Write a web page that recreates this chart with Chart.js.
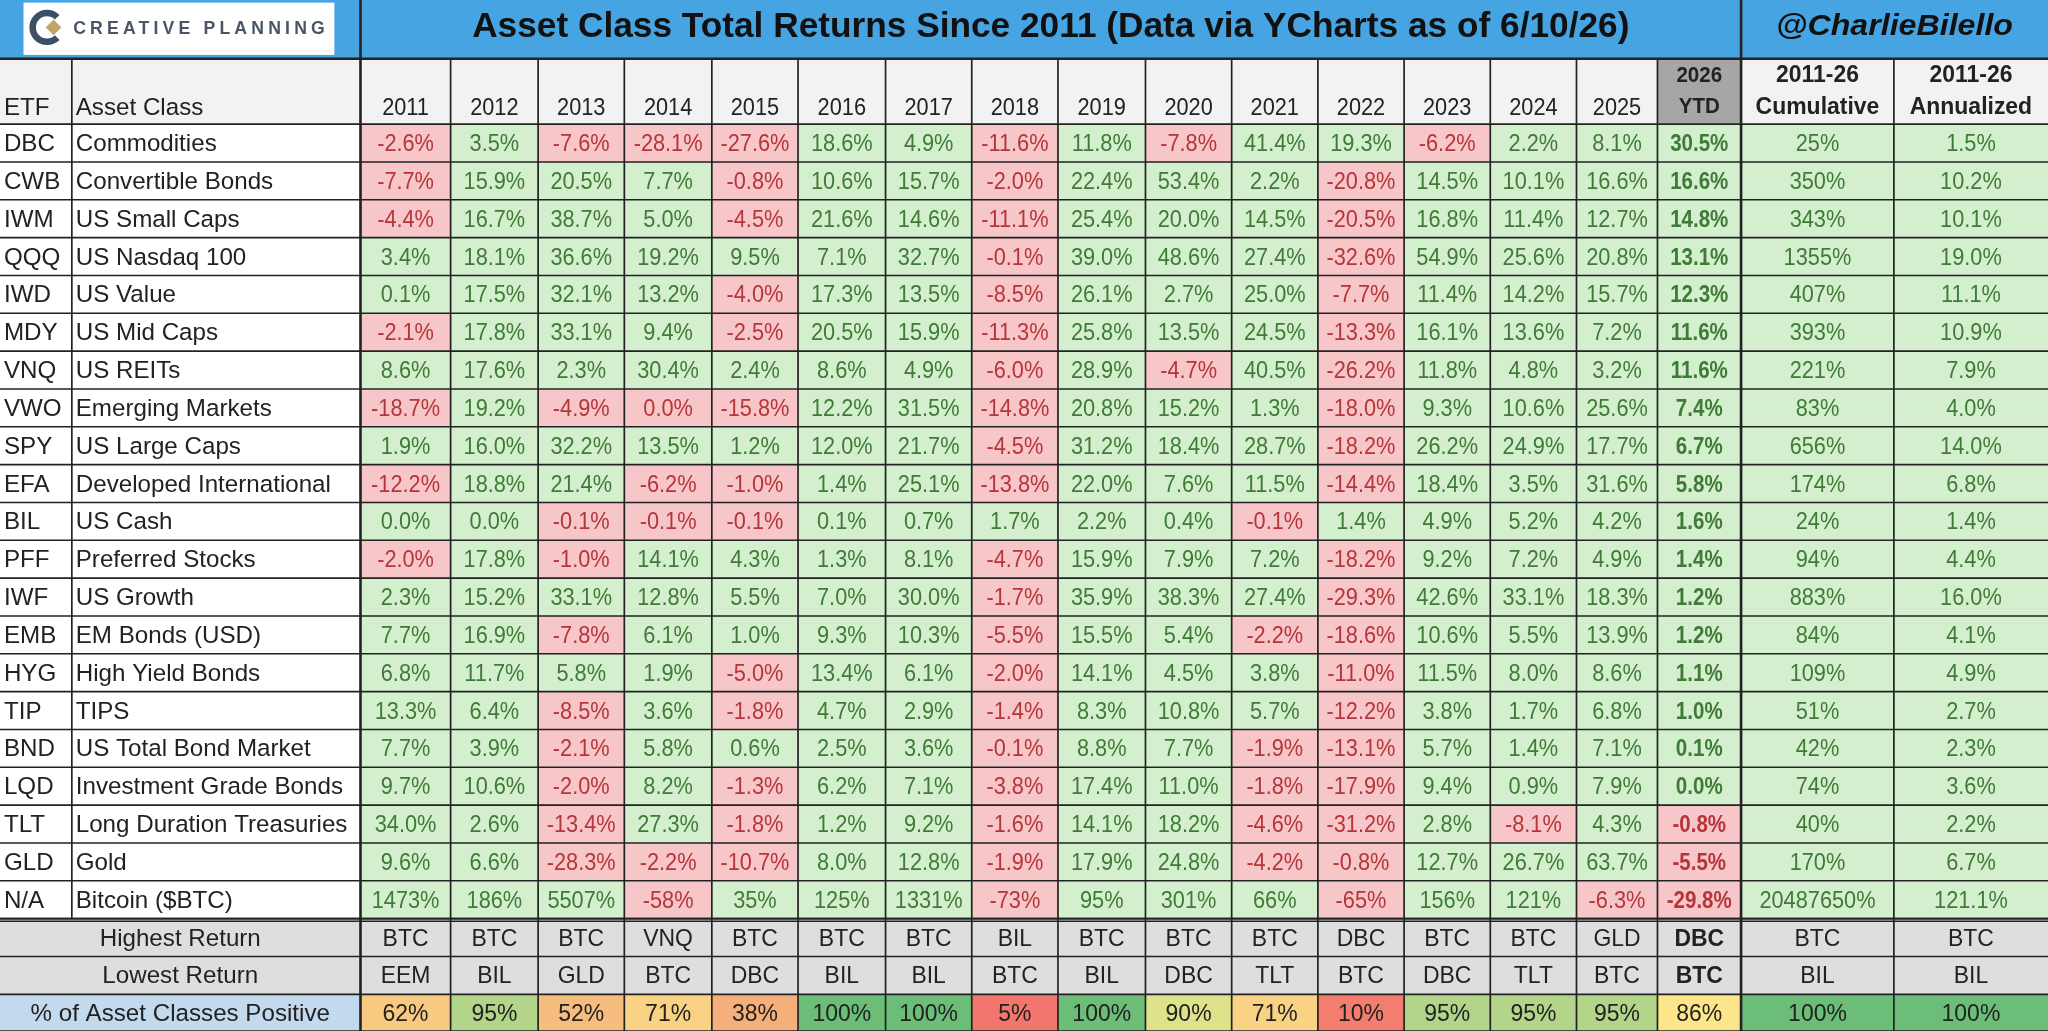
<!DOCTYPE html>
<html><head><meta charset="utf-8">
<script src="https://cdn.jsdelivr.net/npm/chart.js@4/dist/chart.umd.min.js"></script>
<style>html,body{margin:0;padding:0;background:#fff}#wrap{width:2048px;height:1031px}</style>
</head><body><div id="wrap"><canvas id="c"></canvas></div>
<script>
const title = "Asset Class Total Returns Since 2011 (Data via YCharts as of 6/10/26)";
const handle = "@CharlieBilello";
const years = ["2011","2012","2013","2014","2015","2016","2017","2018","2019","2020","2021","2022","2023","2024","2025"];
const tickers = ["DBC","CWB","IWM","QQQ","IWD","MDY","VNQ","VWO","SPY","EFA","BIL","PFF","IWF","EMB","HYG","TIP","BND","LQD","TLT","GLD","N/A"];
const assetClasses = ["Commodities","Convertible Bonds","US Small Caps","US Nasdaq 100","US Value","US Mid Caps","US REITs","Emerging Markets","US Large Caps","Developed International","US Cash","Preferred Stocks","US Growth","EM Bonds (USD)","High Yield Bonds","TIPS","US Total Bond Market","Investment Grade Bonds","Long Duration Treasuries","Gold","Bitcoin ($BTC)"];
// yearly returns 2011..2025
const returns = [
 [-2.6,3.5,-7.6,-28.1,-27.6,18.6,4.9,-11.6,11.8,-7.8,41.4,19.3,-6.2,2.2,8.1],
 [-7.7,15.9,20.5,7.7,-0.8,10.6,15.7,-2.0,22.4,53.4,2.2,-20.8,14.5,10.1,16.6],
 [-4.4,16.7,38.7,5.0,-4.5,21.6,14.6,-11.1,25.4,20.0,14.5,-20.5,16.8,11.4,12.7],
 [3.4,18.1,36.6,19.2,9.5,7.1,32.7,-0.1,39.0,48.6,27.4,-32.6,54.9,25.6,20.8],
 [0.1,17.5,32.1,13.2,-4.0,17.3,13.5,-8.5,26.1,2.7,25.0,-7.7,11.4,14.2,15.7],
 [-2.1,17.8,33.1,9.4,-2.5,20.5,15.9,-11.3,25.8,13.5,24.5,-13.3,16.1,13.6,7.2],
 [8.6,17.6,2.3,30.4,2.4,8.6,4.9,-6.0,28.9,-4.7,40.5,-26.2,11.8,4.8,3.2],
 [-18.7,19.2,-4.9,-0.0,-15.8,12.2,31.5,-14.8,20.8,15.2,1.3,-18.0,9.3,10.6,25.6],
 [1.9,16.0,32.2,13.5,1.2,12.0,21.7,-4.5,31.2,18.4,28.7,-18.2,26.2,24.9,17.7],
 [-12.2,18.8,21.4,-6.2,-1.0,1.4,25.1,-13.8,22.0,7.6,11.5,-14.4,18.4,3.5,31.6],
 [0.0,0.0,-0.1,-0.1,-0.1,0.1,0.7,1.7,2.2,0.4,-0.1,1.4,4.9,5.2,4.2],
 [-2.0,17.8,-1.0,14.1,4.3,1.3,8.1,-4.7,15.9,7.9,7.2,-18.2,9.2,7.2,4.9],
 [2.3,15.2,33.1,12.8,5.5,7.0,30.0,-1.7,35.9,38.3,27.4,-29.3,42.6,33.1,18.3],
 [7.7,16.9,-7.8,6.1,1.0,9.3,10.3,-5.5,15.5,5.4,-2.2,-18.6,10.6,5.5,13.9],
 [6.8,11.7,5.8,1.9,-5.0,13.4,6.1,-2.0,14.1,4.5,3.8,-11.0,11.5,8.0,8.6],
 [13.3,6.4,-8.5,3.6,-1.8,4.7,2.9,-1.4,8.3,10.8,5.7,-12.2,3.8,1.7,6.8],
 [7.7,3.9,-2.1,5.8,0.6,2.5,3.6,-0.1,8.8,7.7,-1.9,-13.1,5.7,1.4,7.1],
 [9.7,10.6,-2.0,8.2,-1.3,6.2,7.1,-3.8,17.4,11.0,-1.8,-17.9,9.4,0.9,7.9],
 [34.0,2.6,-13.4,27.3,-1.8,1.2,9.2,-1.6,14.1,18.2,-4.6,-31.2,2.8,-8.1,4.3],
 [9.6,6.6,-28.3,-2.2,-10.7,8.0,12.8,-1.9,17.9,24.8,-4.2,-0.8,12.7,26.7,63.7],
 [1473,186,5507,-58,35,125,1331,-73,95,301,66,-65,156,121,-6.3]
];
const ytd2026 = [30.5,16.6,14.8,13.1,12.3,11.6,11.6,7.4,6.7,5.8,1.6,1.4,1.2,1.2,1.1,1.0,0.1,0.0,-0.8,-5.5,-29.8];
const cumulative = [25,350,343,1355,407,393,221,83,656,174,24,94,883,84,109,51,42,74,40,170,20487650];
const annualized = [1.5,10.2,10.1,19.0,11.1,10.9,7.9,4.0,14.0,6.8,1.4,4.4,16.0,4.1,4.9,2.7,2.3,3.6,2.2,6.7,121.1];
const highest = ["BTC","BTC","BTC","VNQ","BTC","BTC","BTC","BIL","BTC","BTC","BTC","DBC","BTC","BTC","GLD","DBC","BTC","BTC"];
const lowest  = ["EEM","BIL","GLD","BTC","DBC","BIL","BIL","BTC","BIL","DBC","TLT","BTC","DBC","TLT","BTC","BTC","BIL","BIL"];
const pctPositive = [62,95,52,71,38,100,100,5,100,90,71,10,95,95,95,86,100,100];

// ---- layout (reference units, 1568 x 789) ----
const colEdges = [0,55,276,345,412,478,545,611,678,744,810,877,943,1009,1075,1141,1207,1269,1333,1450,1568];
const titleBottom = 45, headBottom = 95, dataBottom = 703;
const rowH = (dataBottom - headBottom) / tickers.length;
const sumEdges = [703,732,761,789];
const FONT = "'Liberation Sans', Arial, sans-serif";
const SQ = 0.9;

function lerpColor(a,b,t){const pa=[1,3,5].map(i=>parseInt(a.substr(i,2),16)),pb=[1,3,5].map(i=>parseInt(b.substr(i,2),16));return 'rgb('+pa.map((v,i)=>Math.round(v+(pb[i]-v)*t)).join(',')+')';}
const stops=[[0,'#f26d6b'],[40,'#f5b27c'],[65,'#f8cc80'],[86,'#fde689'],[92,'#cfe08a'],[96,'#a9d18a'],[100,'#6cbd78']];
function scaleColor(v){for(let i=1;i<stops.length;i++){if(v<=stops[i][0]){const t=(v-stops[i-1][0])/(stops[i][0]-stops[i-1][0]);return lerpColor(stops[i-1][1],stops[i][1],t);}}return stops[stops.length-1][1];}
const isNeg = v => v<0 || Object.is(v,-0);

const tablePlugin = {
  id:'table',
  afterDraw(chart){
    const ctx=chart.ctx, xs=chart.scales.x, ys=chart.scales.y;
    const X=v=>xs.getPixelForValue(v), Y=v=>ys.getPixelForValue(v);
    const k=(X(1568)-X(0))/1568;
    function rect(x0,y0,x1,y1,fill){ctx.fillStyle=fill;ctx.fillRect(X(x0),Y(y0),X(x1)-X(x0),Y(y1)-Y(y0));}
    function text(s,x,y,opt={}){ctx.save();ctx.font=(opt.italic?'italic ':'')+(opt.bold?'bold ':'')+(opt.size||18.5)*k+'px '+FONT;ctx.fillStyle=opt.color||'#222';ctx.textAlign=opt.align||'center';ctx.textBaseline='middle';
      const sq=opt.sq||SQ;ctx.translate(X(x),Y(y)+1*k);ctx.scale(sq,1);ctx.fillText(s,0,0);ctx.restore();}
    function line(x0,y0,x1,y1,w,c){ctx.beginPath();ctx.moveTo(X(x0),Y(y0));ctx.lineTo(X(x1),Y(y1));ctx.lineWidth=w*k;ctx.strokeStyle=c||'#222';ctx.stroke();}
    const L={sq:1.0,size:18.5};
    ctx.save();
    rect(0,0,1568,titleBottom,'#47a4e3');
    rect(18,2,256,42,'#ffffff');
    const lx=X(36), ly=Y(21), r=11*k;
    ctx.beginPath();ctx.arc(lx,ly,r,0.25*Math.PI,1.75*Math.PI);ctx.lineWidth=5*k;ctx.strokeStyle='#3d4f66';ctx.stroke();
    ctx.fillStyle='#c1a56a';ctx.beginPath();ctx.moveTo(lx-1*k,ly);ctx.lineTo(lx+5*k,ly-6*k);ctx.lineTo(lx+11*k,ly);ctx.lineTo(lx+5*k,ly+6*k);ctx.closePath();ctx.fill();
    ctx.save();ctx.font='bold '+13.5*k+'px '+FONT;ctx.fillStyle='#4a5568';ctx.textBaseline='middle';
    if('letterSpacing' in ctx) ctx.letterSpacing=(3.2*k)+'px';
    ctx.fillText('CREATIVE PLANNING',X(56),Y(22));ctx.restore();
    text(title,(276+1333)/2,20,{bold:true,size:27,color:'#111',sq:1.0});
    text(handle,(1333+1568)/2,20,{bold:true,italic:true,size:22,color:'#111',sq:1.12});
    // header row
    rect(0,titleBottom,1568,headBottom,'#f2f2f2');
    rect(colEdges[17],titleBottom,colEdges[18],headBottom,'#a6a6a6');
    const hy=82;
    text('ETF',3,hy,{align:'left',...L});
    text('Asset Class',58,hy,{align:'left',...L});
    years.forEach((yv,i)=>text(yv,(colEdges[i+2]+colEdges[i+3])/2,hy));
    text('2026',(colEdges[17]+colEdges[18])/2,57,{bold:true,size:17.5});
    text('YTD',(colEdges[17]+colEdges[18])/2,81,{bold:true,size:17.5});
    text('2011-26',(colEdges[18]+colEdges[19])/2,57,{bold:true,size:18.5,sq:0.95});
    text('Cumulative',(colEdges[18]+colEdges[19])/2,81,{bold:true,size:18.5,sq:0.95});
    text('2011-26',(colEdges[19]+colEdges[20])/2,57,{bold:true,size:18.5,sq:0.95});
    text('Annualized',(colEdges[19]+colEdges[20])/2,81,{bold:true,size:18.5,sq:0.95});
    const G='#d3efce', GT='#3f7a37', R='#f6c6c8', RT='#b5353a';
    tickers.forEach((t,r)=>{
      const y0=headBottom+r*rowH, y1=y0+rowH, ym=(y0+y1)/2;
      rect(0,y0,colEdges[2],y1,'#ffffff');
      text(t,3,ym,{align:'left',...L});
      text(assetClasses[r],58,ym,{align:'left',...L});
      const vals=returns[r].concat([ytd2026[r]]);
      vals.forEach((v,c)=>{
        const x0=colEdges[c+2],x1=colEdges[c+3];
        rect(x0,y0,x1,y1,isNeg(v)?R:G);
        let s;
        if(r===tickers.length-1 && c<14) s=Math.round(v)+'%'; else s=(Object.is(v,-0)?'0.0':v.toFixed(1))+'%';
        text(s,(x0+x1)/2,ym,{color:isNeg(v)?RT:GT,bold:c===15,sq:c===15?0.85:SQ});
      });
      rect(colEdges[18],y0,colEdges[19],y1,G);
      text(cumulative[r]+'%',(colEdges[18]+colEdges[19])/2,ym,{color:GT});
      rect(colEdges[19],y0,colEdges[20],y1,G);
      text(annualized[r].toFixed(1)+'%',(colEdges[19]+colEdges[20])/2,ym,{color:GT});
    });
    rect(0,sumEdges[0],1568,sumEdges[2],'#dedede');
    rect(0,sumEdges[2],colEdges[2],sumEdges[3],'#c3d9ee');
    const labels=['Highest Return','Lowest Return','% of Asset Classes Positive'];
    labels.forEach((l,i)=>text(l,colEdges[2]/2,(sumEdges[i]+sumEdges[i+1])/2,L));
    for(let c=0;c<18;c++){
      const x0=colEdges[c+2],x1=colEdges[c+3],xm=(x0+x1)/2;
      text(highest[c],xm,(sumEdges[0]+sumEdges[1])/2,{bold:c===15,sq:0.95});
      text(lowest[c],xm,(sumEdges[1]+sumEdges[2])/2,{bold:c===15,sq:0.95});
      rect(x0,sumEdges[2],x1,sumEdges[3],scaleColor(pctPositive[c]));
      text(pctPositive[c]+'%',xm,(sumEdges[2]+sumEdges[3])/2,{sq:0.95});
    }
    line(0,titleBottom,1568,titleBottom,2);
    for(let r=0;r<=tickers.length;r++){const y=headBottom+r*rowH;line(0,y,1568,y,1.2);}
    sumEdges.forEach(y=>line(0,y,1568,y,1.3));
    line(0,dataBottom+2,1568,dataBottom+2,1.3);
    colEdges.forEach((x,i)=>{
      if(i===0||i===colEdges.length-1) return;
      const yStart = (i===2||i===18)?0:titleBottom;
      if(i===1){line(x,titleBottom,x,dataBottom,1.3);return;}
      line(x,yStart,x,789,(i===2||i===18)?2:1.3);
    });
    ctx.restore();
  }
};

new Chart(document.getElementById('c'),{
  type:'scatter',
  data:{datasets:[{data:[],pointRadius:0}]},
  options:{responsive:true,maintainAspectRatio:false,animation:false,
    layout:{padding:0},
    plugins:{legend:{display:false},tooltip:{enabled:false}},
    scales:{x:{type:'linear',min:0,max:1568,display:false},y:{type:'linear',min:0,max:789,reverse:true,display:false}}},
  plugins:[tablePlugin]
});
</script></body></html>
